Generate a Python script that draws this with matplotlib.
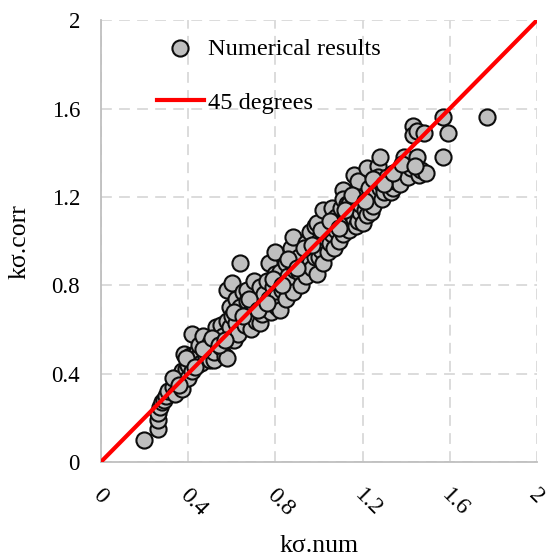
import numpy as np
import matplotlib.pyplot as plt
from matplotlib.transforms import ScaledTranslation

# numerical results (k_sigma,num vs k_sigma,corr)
k_num = [0.20, 0.26, 0.26, 0.26, 0.27, 0.28, 0.29, 0.30, 0.31, 0.33, 0.34, 0.35, 0.36, 0.37, 0.37,
         0.38, 0.39, 0.40, 0.40, 0.41, 0.42, 0.42, 0.43, 0.44, 0.44, 0.45, 0.45, 0.46, 0.47, 0.48,
         0.49, 0.50, 0.50, 0.52, 0.52, 0.53, 0.54, 0.55, 0.55, 0.56, 0.57, 0.58, 0.58, 0.59, 0.59,
         0.58, 0.60, 0.60, 0.61, 0.62, 0.62, 0.63, 0.64, 0.64, 0.65, 0.66, 0.67, 0.67, 0.68, 0.69,
         0.70, 0.70, 0.71, 0.72, 0.73, 0.73, 0.74, 0.75, 0.75, 0.76, 0.77, 0.77, 0.78, 0.78, 0.79,
         0.80, 0.80, 0.81, 0.81, 0.82, 0.82, 0.83, 0.84, 0.85, 0.85, 0.86, 0.87, 0.87, 0.88, 0.88,
         0.89, 0.90, 0.91, 0.91, 0.92, 0.93, 0.94, 0.94, 0.95, 0.96, 0.96, 0.97, 0.98, 0.98, 0.99,
         0.99, 1.00, 1.00, 1.01, 1.02, 1.02, 1.03, 1.04, 1.04, 1.05, 1.06, 1.06, 1.07, 1.08, 1.08,
         1.09, 1.10, 1.10, 1.11, 1.11, 1.11, 1.12, 1.13, 1.13, 1.14, 1.14, 1.15, 1.16, 1.16, 1.17,
         1.18, 1.18, 1.19, 1.19, 1.20, 1.20, 1.21, 1.22, 1.22, 1.23, 1.24, 1.24, 1.25, 1.26, 1.27,
         1.27, 1.28, 1.28, 1.29, 1.29, 1.30, 1.31, 1.32, 1.33, 1.34, 1.35, 1.36, 1.37, 1.39, 1.40,
         1.41, 1.42, 1.43, 1.43, 1.45, 1.45, 1.46, 1.47, 1.48, 1.49, 1.57, 1.59, 1.57, 1.77,
         0.33, 0.36, 0.39, 0.43, 0.47, 0.51, 0.54, 0.57, 0.61, 0.65, 0.68, 0.72, 0.76, 0.79, 0.83,
         0.86, 0.90, 0.93, 0.97, 1.01, 1.05, 1.09, 1.12, 1.15, 1.21, 1.25, 1.30, 1.34, 1.38, 1.44]
k_corr = [0.10, 0.15, 0.19, 0.22, 0.25, 0.27, 0.28, 0.30, 0.32, 0.34, 0.31, 0.37, 0.38, 0.33, 0.41,
          0.49, 0.42, 0.44, 0.38, 0.48, 0.58, 0.41, 0.46, 0.50, 0.44, 0.48, 0.53, 0.45, 0.57, 0.48,
          0.52, 0.54, 0.46, 0.46, 0.50, 0.61, 0.57, 0.52, 0.62, 0.57, 0.48, 0.64, 0.47, 0.61, 0.70,
          0.78, 0.81, 0.66, 0.55, 0.63, 0.74, 0.58, 0.90, 0.70, 0.77, 0.62, 0.78, 0.73, 0.67, 0.60,
          0.82, 0.71, 0.64, 0.73, 0.79, 0.63, 0.67, 0.76, 0.70, 0.82, 0.90, 0.74, 0.72, 0.68, 0.79,
          0.95, 0.85, 0.75, 0.70, 0.86, 0.69, 0.78, 0.81, 0.90, 0.74, 0.84, 0.97, 0.82, 1.02, 0.77,
          0.87, 0.91, 0.93, 0.86, 0.80, 0.89, 0.99, 0.84, 0.95, 1.04, 0.90, 0.88, 1.07, 0.93, 1.08,
          0.85, 0.93, 1.00, 0.96, 1.14, 0.90, 1.02, 1.06, 0.95, 0.99, 1.15, 1.03, 0.97, 1.05, 1.11,
          1.00, 1.15, 1.07, 1.23, 1.19, 1.03, 1.10, 1.10, 1.17, 1.05, 1.17, 1.12, 1.30, 1.10, 1.07,
          1.27, 1.09, 1.13, 1.17, 1.20, 1.08, 1.14, 1.33, 1.12, 1.24, 1.13, 1.19, 1.16, 1.22, 1.34,
          1.29, 1.38, 1.24, 1.26, 1.19, 1.22, 1.29, 1.25, 1.22, 1.24, 1.27, 1.29, 1.26, 1.38, 1.31,
          1.29, 1.33, 1.52, 1.48, 1.50, 1.38, 1.30, 1.32, 1.49, 1.31, 1.56, 1.49, 1.38, 1.56,
          0.38, 0.35, 0.47, 0.43, 0.51, 0.56, 0.53, 0.55, 0.68, 0.66, 0.74, 0.69, 0.72, 0.83, 0.80,
          0.92, 0.88, 0.97, 0.98, 1.05, 1.09, 1.06, 1.14, 1.21, 1.18, 1.28, 1.26, 1.31, 1.35, 1.34]

line_x = [0, 2]
line_y = [0, 2]
ticks = [0, 0.4, 0.8, 1.2, 1.6, 2]
tick_labels = ['0', '0.4', '0.8', '1.2', '1.6', '2']

plt.rcParams['font.family'] = ['Liberation Serif', 'DejaVu Serif']

fig = plt.figure(figsize=(5.48, 5.59), dpi=100)
ax = fig.add_axes([0.184, 0.1735, 0.796, 0.7905])

ax.scatter(k_num, k_corr, s=135, facecolor='#bfbfbf', edgecolor='#0d0d0d', linewidth=1.5,
           zorder=3, label='Numerical results')
ax.plot(line_x, line_y, color='#ff0000', linewidth=3.0, zorder=4, label='45 degrees')

ax.set_xlim(0, 2)
ax.set_ylim(0, 2)
ax.set_xticks(ticks)
ax.set_yticks(ticks)
ax.set_yticklabels(tick_labels, fontsize=16.5)
ax.set_xticklabels(tick_labels, fontsize=17, rotation=-45, ha='left', va='center',
                   rotation_mode='anchor')
ax.tick_params(axis='x', length=0, pad=22)
ax.tick_params(axis='y', length=0, pad=15)
# nudge the rotated labels a little left so the last one stays inside the figure
shift = ScaledTranslation(-0.05, 0, fig.dpi_scale_trans)
for lbl in ax.get_xticklabels():
    lbl.set_transform(lbl.get_transform() + shift)

ax.grid(True, color='#d9d9d9', linestyle=(0, (6, 4)), linewidth=1.3, zorder=0)
ax.set_axisbelow(True)
for side in ['top', 'right']:
    ax.spines[side].set_visible(False)
for side in ['left', 'bottom']:
    ax.spines[side].set_color('#bfbfbf')
    ax.spines[side].set_linewidth(1.3)

ax.set_xlabel('kσ.num', fontsize=18.5, labelpad=10)
ax.set_ylabel('kσ.corr', fontsize=18.5, labelpad=15)

ax.legend(loc='upper left', bbox_to_anchor=(0.128, 0.96), frameon=False, fontsize=17.6,
          scatterpoints=1, markerscale=1.0, handlelength=1.95, handletextpad=0.15,
          labelspacing=1.3, borderpad=0, borderaxespad=0)

plt.savefig('out.png', dpi=100)
